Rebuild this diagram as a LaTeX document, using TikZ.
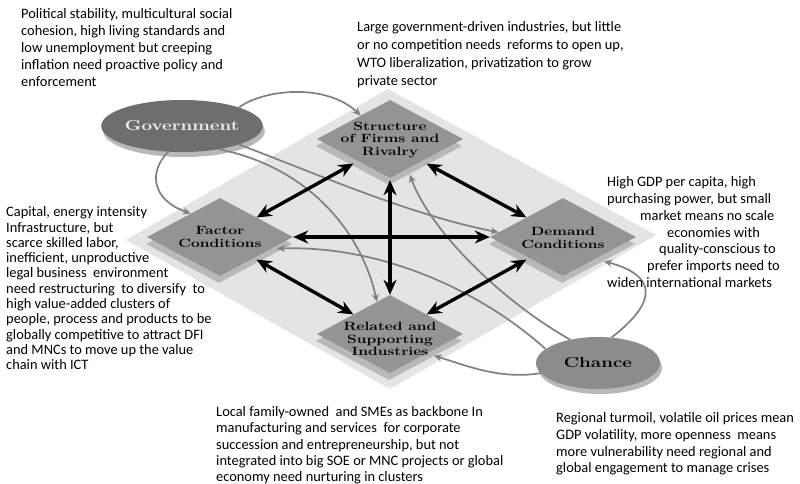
\documentclass[tikz,border=0pt]{standalone}
\usepackage{fontspec}
\newfontfamily\notefont{Carlito}
\newfontfamily\diafont[FakeStretch=1.3]{Latin Modern Roman}
\usetikzlibrary{arrows.meta,shapes.geometric,shadows,calc}

\definecolor{slab}{HTML}{E4E4E4}
\definecolor{facet}{HTML}{949494}
\definecolor{facetshade}{HTML}{B8B8B8}
\definecolor{govfill}{HTML}{6E6E6E}
\definecolor{chancefill}{HTML}{8C8C8C}
\definecolor{linkgray}{HTML}{808080}

\tikzset{
  facetbox/.style={diamond, fill=facet, minimum width=146pt, minimum height=78pt,
    inner sep=0pt, drop shadow={opacity=1, fill=facetshade, shadow xshift=-1pt, shadow yshift=-7pt}},
  facettext/.style={font=\diafont\bfseries\fontsize{12}{12.5}\selectfont, align=center, inner sep=0pt},
  ovalbase/.style={ellipse, minimum width=124pt, minimum height=52pt, inner sep=0pt,
    font=\diafont\bfseries\fontsize{14.5}{15}\selectfont,
    drop shadow={opacity=1, fill=black!28, shadow xshift=2pt, shadow yshift=-5pt}},
  tiearrow/.style={line width=3.4pt, {Stealth[length=15pt,width=13pt]}-{Stealth[length=15pt,width=13pt]}},
  softarrow/.style={draw=linkgray, line width=1.7pt, -{Stealth[length=8pt,width=7pt]}},
  note/.style={font=\notefont\fontsize{14.4}{17}\selectfont, align=left, anchor=north west, inner sep=0pt},
}

\begin{document}
\begin{tikzpicture}[x=1pt,y=-1pt]
\useasboundingbox (0,0) rectangle (800,484);

% light slab behind the four determinants
\fill[slab] (388,89) -- (656,235) -- (390,389) -- (126,240) -- cycle;

% the four determinants
\node[facetbox] (rivalry) at (390,139) {};
\node[facetbox] (factor)  at (220,237) {};
\node[facetbox] (demand)  at (563,237) {};
\node[facetbox] (related) at (390,334) {};

\node[facettext] (rivalry-t) at (390,140) {Structure\\of Firms and\\Rivalry};
\node[facettext] (factor-t)  at (220,237) {Factor\\Conditions};
\node[facettext] (demand-t)  at (563,238) {Demand\\Conditions};
\node[facettext] (related-t) at (390,339) {Related and\\Supporting\\Industries};

% outside influences
\node[ovalbase, fill=govfill, text=black!6] (gov) at (182,126) {Government};
\node[ovalbase, fill=chancefill] (chance) at (598,363) {Chance};

% influence links
\draw[softarrow] (gov.18) .. controls (262,90) and (325,82) .. ($(rivalry.west)!0.6!(rivalry.north)$);
\draw[softarrow] (gov.-118) .. controls (148,172) and (152,200) .. ($(factor.west)!0.6!(factor.north)$);
\draw[softarrow] (gov.-18) .. controls (320,175) and (410,215) .. ($(demand.west)!0.12!(demand.north)$);
\draw[softarrow] (gov.-32) .. controls (320,170) and (365,245) .. ($(related.west)!0.82!(related.north)$);

\draw[softarrow] (chance.62) .. controls (660,300) and (655,275) .. ([yshift=-7pt]$(demand.east)!0.44!(demand.south)$);
\draw[softarrow] (chance.140) .. controls (500,300) and (430,230) .. ([yshift=-7pt]$(rivalry.south)!0.27!(rivalry.east)$);
\draw[softarrow] (chance.165) .. controls (480,290) and (380,245) .. ([yshift=-3pt]$(factor.south)!0.78!(factor.east)$);
\draw[softarrow] (chance.190) .. controls (500,380) and (465,365) .. ([yshift=-6pt]$(related.south)!0.6!(related.east)$);

% mutual reinforcement between determinants
\draw[tiearrow] ([yshift=-5pt]rivalry.south west) -- (factor.north east);
\draw[tiearrow] ([yshift=-5pt]rivalry.south east) -- (demand.north west);
\draw[tiearrow] ([yshift=-2pt]rivalry.south) -- (related.north);
\draw[tiearrow] (factor.east) -- (demand.west);
\draw[tiearrow] ([yshift=-3pt]factor.south east) -- (related.north west);
\draw[tiearrow] ([yshift=-3pt]demand.south west) -- (related.north east);

% commentary
\node[note] (gov-note) at (21,8.5) {Political stability, multicultural social\\cohesion, high living standards and\\low unemployment but creeping\\inflation need proactive policy and\\enforcement};
\node[note, font=\notefont\fontsize{14.4}{18}\selectfont] (rivalry-note) at (357,21.5) {Large government-driven industries, but little\\or no competition needs\ \ reforms to open up,\\WTO liberalization, privatization to grow\\private sector};
\node[note, font=\notefont\fontsize{14.4}{16.8}\selectfont] (demand-note) at (607,176.5) {High GDP per capita, high\\purchasing power, but small\\\hspace*{33pt}market means no scale\\\hspace*{60pt}economies with\\\hspace*{52pt}quality-conscious to\\\hspace*{40pt}prefer imports need to\\widen international markets};
\node[note, font=\notefont\fontsize{14.4}{15.3}\selectfont] (factor-note) at (6,206.5) {Capital, energy intensity\\Infrastructure, but\\scarce skilled labor,\\inefficient, unproductive\\legal business\ \ environment\\need restructuring\ \ to diversify\ \ to\\high value-added clusters of\\people, process and products to be\\globally competitive to attract DFI\\and MNCs to move up the value\\chain with ICT};
\node[note, font=\notefont\fontsize{14.4}{16.2}\selectfont] (related-note) at (216,406.5) {Local family-owned\ \ and SMEs as backbone In\\manufacturing and services\ \ for corporate\\succession and entrepreneurship, but not\\integrated into big SOE or MNC projects or global\\economy need nurturing in clusters};
\node[note, font=\notefont\fontsize{14.4}{16.7}\selectfont] (chance-note) at (556,412.5) {Regional turmoil, volatile oil prices mean\\GDP volatility, more openness\ \ means\\more vulnerability need regional and\\global engagement to manage crises};
\end{tikzpicture}
\end{document}
